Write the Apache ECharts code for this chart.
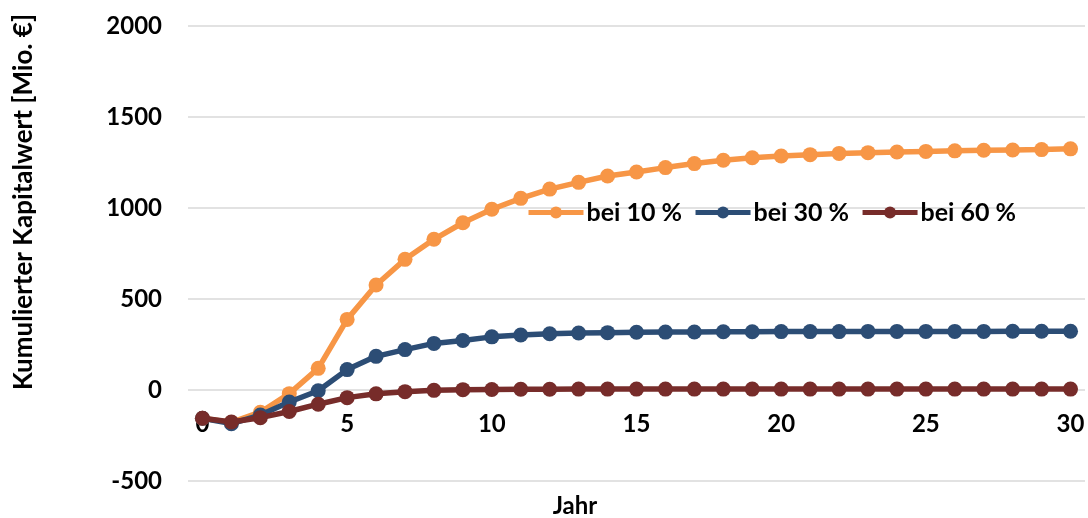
<!DOCTYPE html>
<html>
<head>
<meta charset="utf-8">
<script src="https://cdn.jsdelivr.net/npm/echarts@6/dist/echarts.min.js"></script>
<style>
  html, body { margin: 0; padding: 0; background: #ffffff; }
  #chart { width: 1088px; height: 518px; }
</style>
</head>
<body>
<div id="chart"></div>
<script>
// Years after investment (category axis)
const years = Array.from({ length: 31 }, (_, i) => String(i));

// Cumulative net present value in Mio. € for three discount rates
const bei10 = [-155, -178, -122, -20, 119, 388, 577, 718, 828, 919, 993, 1053, 1104, 1141, 1176, 1198,
  1222, 1244, 1262, 1276, 1286, 1293, 1300, 1304, 1308, 1311, 1314, 1317, 1319, 1321, 1325];
const bei30 = [-155, -185, -138, -66, -4, 112, 185, 222, 256, 272, 292, 302, 309, 313, 315, 317,
  318, 319, 320, 320, 321, 321, 321, 322, 322, 322, 322, 322, 323, 323, 323];
const bei60 = [-155, -176, -152, -118, -78, -42, -21, -9, -2, 2, 3, 4, 4, 5, 5, 5,
  5, 5, 5, 5, 5, 5, 5, 5, 5, 5, 5, 5, 5, 5, 5];

const seriesNames = ['bei 10 %', 'bei 30 %', 'bei 60 %'];
const seriesColors = ['#F79646', '#2C4D75', '#772C2A'];
const seriesData = [bei10, bei30, bei60];

const yMin = -500, yMax = 2000, yStep = 500;

const FONT = 'Lato, "Open Sans", "Noto Sans", sans-serif';

const gridTop = 26, gridBottom = 37, chartHeight = 518;
// Place the category axis on the value 0 line
const plotHeight = chartHeight - gridTop - gridBottom;
const zeroOffset = -plotHeight * (0 - yMin) / (yMax - yMin);

const chart = echarts.init(document.getElementById('chart'), null, { renderer: 'canvas' });

chart.setOption({
  animation: false,
  backgroundColor: '#ffffff',
  grid: { left: 188, right: 3, top: gridTop, bottom: gridBottom, containLabel: false },
  legend: {
    data: seriesNames,
    left: 521,
    top: 195,
    itemWidth: 55,
    itemHeight: 15,
    itemGap: 11,
    lineStyle: { width: 5 },
    textStyle: { fontFamily: FONT, fontWeight: 'bold', fontSize: 25, color: '#000', padding: [0, 0, 0, -2] }
  },
  xAxis: {
    type: 'category',
    data: years,
    boundaryGap: true,
    position: 'bottom',
    offset: zeroOffset,
    axisLine: { show: false, onZero: false },
    axisTick: { show: false },
    axisLabel: {
      interval: 4,
      margin: 22,
      fontFamily: FONT, fontWeight: 'bold', fontSize: 24, color: '#000'
    },
    splitLine: { show: false }
  },
  yAxis: {
    type: 'value',
    min: yMin, max: yMax, interval: yStep,
    axisLine: { show: false },
    axisTick: { show: false },
    axisLabel: {
      margin: 26, fontFamily: FONT, fontWeight: 'bold', fontSize: 24, color: '#000',
      formatter: v => String(v)
    },
    splitLine: { lineStyle: { color: '#D9D9D9', width: 1.5 } }
  },
  graphic: [
    {
      type: 'text',
      x: 24, y: 202,
      rotation: Math.PI / 2,
      style: {
        text: 'Kumulierter Kapitalwert [Mio. €]',
        fontFamily: FONT, fontWeight: 'bold', fontSize: 26, fill: '#000',
        textAlign: 'center', textVerticalAlign: 'middle'
      }
    },
    {
      type: 'text',
      x: 575, y: 506,
      style: {
        text: 'Jahr',
        fontFamily: FONT, fontWeight: 'bold', fontSize: 24, fill: '#000',
        textAlign: 'center', textVerticalAlign: 'middle'
      }
    }
  ],
  series: seriesNames.map((name, i) => ({
    name,
    type: 'line',
    data: seriesData[i],
    symbol: 'circle',
    symbolSize: 15,
    showAllSymbol: true,
    color: seriesColors[i],
    lineStyle: { width: 5.5, color: seriesColors[i] },
    itemStyle: { color: seriesColors[i] },
    z: 2 + i
  }))
});
</script>
</body>
</html>
